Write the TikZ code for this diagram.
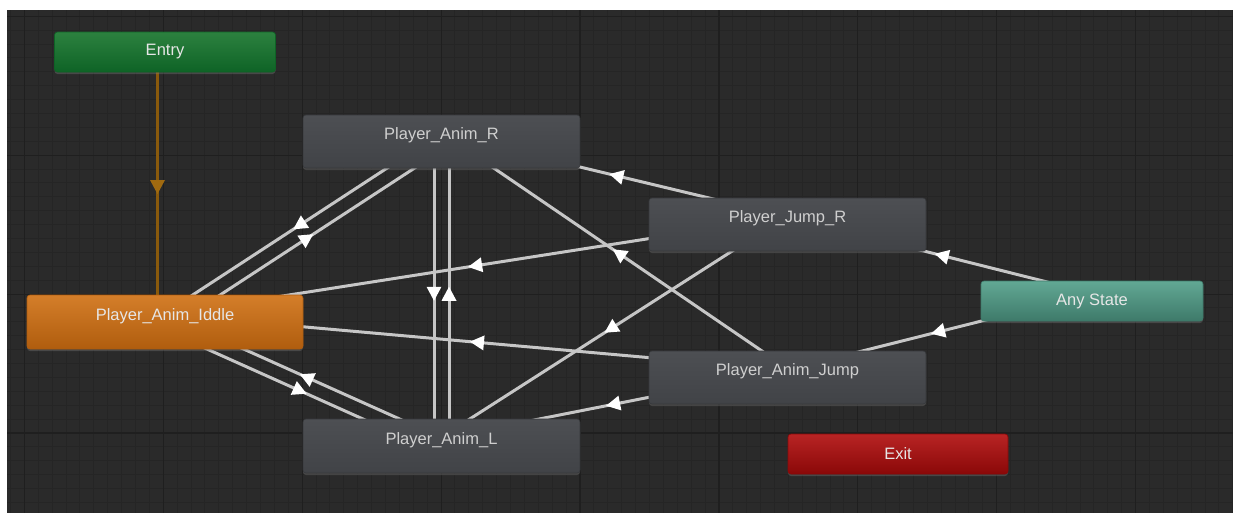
\documentclass[tikz,border=0pt]{standalone}
\usepackage{fontspec}
\setmainfont{Liberation Sans}
\usetikzlibrary{calc,arrows.meta,decorations.markings,shadows}
\pgfdeclarelayer{gridlayer}
\pgfdeclarelayer{edgelayer}
\pgfsetlayers{gridlayer,edgelayer,main}
\definecolor{bgdark}{HTML}{2A2A2A}
\definecolor{gridminor}{HTML}{252525}
\definecolor{gridmajor}{HTML}{1F1F1F}
\definecolor{greytop}{HTML}{4D4F53}
\definecolor{greybot}{HTML}{414347}
\definecolor{greyedge}{HTML}{36383B}
\definecolor{entrytop}{HTML}{2C813F}
\definecolor{entrybot}{HTML}{0E6326}
\definecolor{idletop}{HTML}{D47E2A}
\definecolor{idlebot}{HTML}{B05D0E}
\definecolor{anytop}{HTML}{62A894}
\definecolor{anybot}{HTML}{3E7A6A}
\definecolor{exittop}{HTML}{B82424}
\definecolor{exitbot}{HTML}{8A0808}
\definecolor{lineclr}{HTML}{C6C6C6}
\definecolor{entryline}{HTML}{8A5A0C}
\definecolor{entryarrow}{HTML}{A06A10}
\definecolor{txtgrey}{HTML}{CFCFCF}
\definecolor{txtlight}{HTML}{E6E6E6}
\tikzset{
  statebox/.style={rounded corners=3pt, inner sep=0pt, draw=greyedge, line width=0.6pt,
    drop shadow={opacity=0.35, shadow xshift=0pt, shadow yshift=-2pt}},
  bigstate/.style={statebox, minimum width=277pt, minimum height=53pt, top color=greytop, bottom color=greybot},
  smallstate/.style={statebox, minimum width=221pt, minimum height=40pt},
  lbl/.style={font=\fontsize{16.5}{18}\selectfont, text=txtgrey, yshift=6pt},
  lblc/.style={font=\fontsize{16.5}{18}\selectfont, text=txtlight},
  trans/.style 2 args={draw=#1, line width=3pt, postaction={decorate},
    decoration={markings, mark=at position 0.5 with {\fill[#2] (7pt,0pt) -- (-7pt,7.5pt) -- (-7pt,-7.5pt) -- cycle;}}},
}
\newcommand\stateedge[3][lineclr]{%
  \draw[trans={#1}{white}] ($(#2.center)!7.5pt!-90:(#3.center)$) -- ($(#3.center)!7.5pt!90:(#2.center)$);}
\begin{document}
\begin{tikzpicture}[x=1pt,y=-1pt]
\useasboundingbox (0,0) rectangle (1240,515);
\begin{pgfonlayer}{gridlayer}
  \fill[white] (0,0) rectangle (1240,515);
  \fill[bgdark] (7,10) rectangle (1233,513);
  \begin{scope}
    \clip (7,10) rectangle (1233,513);
    \foreach \i in {0,...,88} {\draw[gridminor, line width=1pt] ({10.5+13.89*\i},10) -- ++(0,503);}
    \foreach \i in {0,...,37} {\draw[gridminor, line width=1pt] (7,{2.4+13.89*\i}) -- ++(1226,0);}
    \foreach \i in {0,...,8} {\draw[gridmajor, line width=1.2pt] ({24.4+138.9*\i},10) -- ++(0,503);}
    \foreach \i in {0,...,3} {\draw[gridmajor, line width=1.2pt] (7,{16.3+138.9*\i}) -- ++(1226,0);}
  \end{scope}
\end{pgfonlayer}

\node[smallstate, top color=entrytop, bottom color=entrybot, draw=entrybot] (entry) at (165,52) {};
\node[lblc] at (entry.center) {Entry};
\node[bigstate, minimum width=276pt, minimum height=54pt, top color=idletop, bottom color=idlebot, draw=idlebot] (idle) at (165,322) {};
\node[lbl, text=txtlight] at (idle.center) {Player\_Anim\_Iddle};
\node[bigstate] (r) at (441.5,141.5) {};
\node[lbl] at (r.center) {Player\_Anim\_R};
\node[bigstate, minimum height=54pt] (l) at (441.5,446) {};
\node[lbl] at (l.center) {Player\_Anim\_L};
\node[bigstate] (jr) at (787.5,224.5) {};
\node[lbl] at (jr.center) {Player\_Jump\_R};
\node[bigstate] (jump) at (787.5,377.5) {};
\node[lbl] at (jump.center) {Player\_Anim\_Jump};
\node[smallstate, minimum width=222pt, top color=anytop, bottom color=anybot, draw=anybot] (any) at (1092,301) {};
\node[lblc] at (any.center) {Any State};
\node[smallstate, minimum width=220pt, top color=exittop, bottom color=exitbot, draw=exitbot] (exit) at (898,454) {};
\node[lblc] at (exit.center) {Exit};

\begin{pgfonlayer}{edgelayer}
  \draw[trans={entryline}{entryarrow}, line width=3.5pt] ($(entry.center)!7.5pt!-90:(idle.center)$) -- ($(idle.center)!7.5pt!90:(entry.center)$);
  \stateedge{idle}{r}
  \stateedge{r}{idle}
  \stateedge{idle}{l}
  \stateedge{l}{idle}
  \stateedge{r}{l}
  \stateedge{l}{r}
  \stateedge{jr}{r}
  \stateedge{jr}{idle}
  \stateedge{jr}{l}
  \stateedge{jump}{r}
  \stateedge{jump}{idle}
  \stateedge{jump}{l}
  \stateedge{any}{jr}
  \stateedge{any}{jump}
\end{pgfonlayer}
\end{tikzpicture}
\end{document}
